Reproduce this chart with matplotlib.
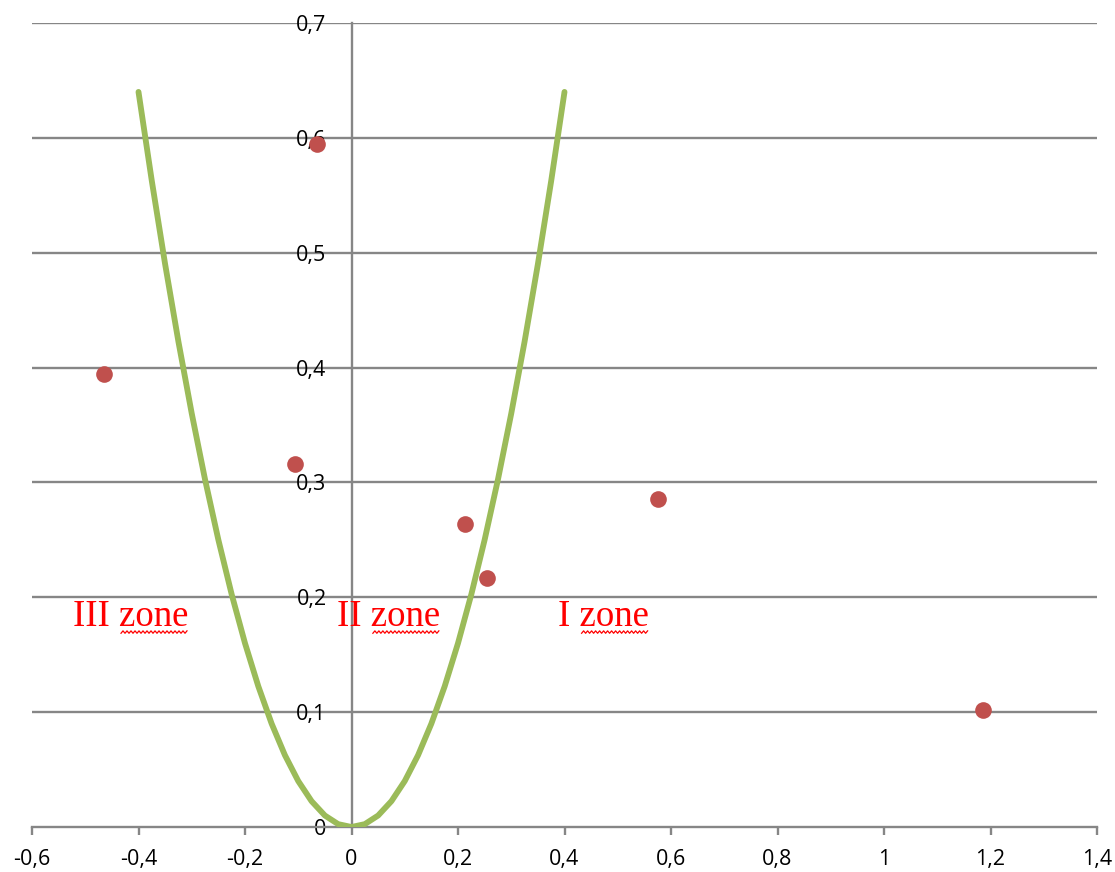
import matplotlib
matplotlib.use("Agg")
import matplotlib.pyplot as plt
import numpy as np
from matplotlib.lines import Line2D

# Data
curve_x = [-0.4, -0.375, -0.35, -0.325, -0.3, -0.275, -0.25, -0.225, -0.2, -0.175, -0.15,
           -0.125, -0.1, -0.075, -0.05, -0.025, 0.0, 0.025, 0.05, 0.075, 0.1, 0.125, 0.15,
           0.175, 0.2, 0.225, 0.25, 0.275, 0.3, 0.325, 0.35, 0.375, 0.4]
curve_y = [0.64, 0.5625, 0.49, 0.4225, 0.36, 0.3025, 0.25, 0.2025, 0.16, 0.1225, 0.09,
           0.0625, 0.04, 0.0225, 0.01, 0.0025, 0.0, 0.0025, 0.01, 0.0225, 0.04, 0.0625, 0.09,
           0.1225, 0.16, 0.2025, 0.25, 0.3025, 0.36, 0.4225, 0.49, 0.5625, 0.64]
points_x = [-0.465, -0.106, -0.064, 0.214, 0.255, 0.575, 1.186]
points_y = [0.394, 0.316, 0.595, 0.264, 0.217, 0.286, 0.102]
x_ticks = [-0.6, -0.4, -0.2, 0, 0.2, 0.4, 0.6, 0.8, 1.0, 1.2, 1.4]
x_tick_labels = ["-0,6", "-0,4", "-0,2", "0", "0,2", "0,4", "0,6", "0,8", "1", "1,2", "1,4"]
y_ticks = [0, 0.1, 0.2, 0.3, 0.4, 0.5, 0.6, 0.7]
y_tick_labels = ["0", "0,1", "0,2", "0,3", "0,4", "0,5", "0,6", "0,7"]
zone_labels = ["III zone", "II zone", "I zone"]
zone_x = [-0.523, -0.027, 0.388]
zone_y = [0.183, 0.183, 0.183]

GRAY = "#868686"
fig = plt.figure(figsize=(11.15, 8.72), dpi=100)
ax = fig.add_axes([32/1115, 1-827/872, (1097-32)/1115, (827-23)/872])
ax.set_xlim(-0.6, 1.4)
ax.set_ylim(0, 0.7)

for yv in y_ticks[1:]:
    ax.axhline(yv, color=GRAY, lw=1.7, zorder=1)

ax.spines['top'].set_visible(False)
ax.spines['right'].set_visible(False)
ax.spines['left'].set_position(('data', 0))
ax.spines['left'].set_color(GRAY)
ax.spines['left'].set_linewidth(1.7)
ax.spines['bottom'].set_color(GRAY)
ax.spines['bottom'].set_linewidth(1.7)
ax.spines['left'].set_zorder(1)

ax.set_xticks(x_ticks)
ax.set_xticklabels(x_tick_labels, fontsize=15.5, family="Open Sans")
ax.set_yticks(y_ticks)
ax.set_yticklabels(y_tick_labels, fontsize=15.5, family="Open Sans")
ax.tick_params(axis='x', direction='out', length=6, width=1.7, color=GRAY, pad=10)
ax.tick_params(axis='y', length=0, pad=18)
for lab in ax.get_yticklabels():
    lab.set_zorder(10)

ax.plot(curve_x, curve_y, color="#9BBB59", lw=4.2, zorder=3, solid_capstyle='round')
ax.plot(points_x, points_y, 'o', color="#C0504D", markersize=12, markeredgewidth=0, zorder=4)

fig.canvas.draw()
renderer = fig.canvas.get_renderer()
for lab, zx, zy in zip(zone_labels, zone_x, zone_y):
    t = ax.text(zx, zy, lab, color="red", fontsize=26.5, family="Liberation Serif",
                ha='left', va='center', zorder=5)
    prefix = lab[:-4]
    tp = ax.text(zx, zy, prefix, fontsize=26.5, family="Liberation Serif",
                 ha='left', va='center', alpha=0)
    fig.canvas.draw()
    bb = t.get_window_extent(renderer)
    bp = tp.get_window_extent(renderer)
    x0 = bp.x1 + 2
    x1 = bb.x1
    ybase = bb.y0 + 2
    xs = np.arange(x0, x1, 2.0)
    ys = [ybase + (1.2 if i % 2 else -1.2) for i in range(len(xs))]
    fig.add_artist(Line2D(xs, ys, transform=None, color="red", lw=0.9))

fig.savefig("out.png", dpi=100)
